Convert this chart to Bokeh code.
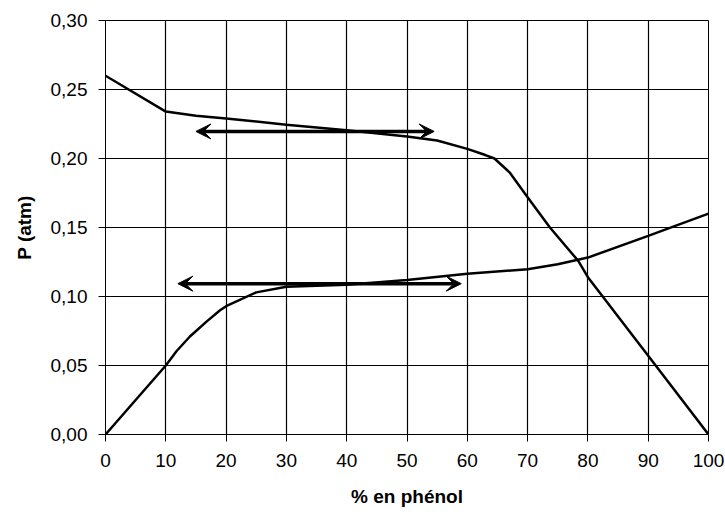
from bokeh.plotting import figure
from bokeh.models import FixedTicker, CustomJSTickFormatter, Arrow, VeeHead
from bokeh.embed import file_html
from bokeh.resources import INLINE

# Upper curve
upper_x = [0, 10, 15, 20, 30, 40, 50, 55, 60, 63, 64.5, 67, 70, 73.7, 78.4, 80, 90, 100]
upper_y = [0.260, 0.234, 0.231, 0.229, 0.2245, 0.2205, 0.216, 0.213, 0.207, 0.2025, 0.200,
           0.190, 0.172, 0.150, 0.1258, 0.114, 0.057, 0.0]

# Lower curve
lower_x = [0, 5, 10, 11.8, 14, 16.8, 19, 20, 25, 30, 40, 50, 60, 70, 75, 80, 90, 100]
lower_y = [0.0, 0.025, 0.050, 0.0605, 0.071, 0.082, 0.090, 0.093, 0.103, 0.107,
           0.1085, 0.112, 0.1165, 0.1197, 0.1234, 0.1282, 0.1439, 0.160]

# Double arrows (start x, end x, y)
arrow_x_start = [15, 12]
arrow_x_end = [54.5, 59]
arrow_y = [0.2196, 0.1093]

x_ticks = [0, 10, 20, 30, 40, 50, 60, 70, 80, 90, 100]
y_ticks = [0.0, 0.05, 0.10, 0.15, 0.20, 0.25, 0.30]

x_title = "% en phénol"
y_title = "P (atm)"

p = figure(width=725, height=520, x_range=(0, 100), y_range=(0, 0.30),
           output_backend="svg", toolbar_location=None,
           min_border_left=105, min_border_right=17, min_border_top=20, min_border_bottom=86)
p.outline_line_color = "black"
p.outline_line_width = 1
p.background_fill_color = "white"
p.border_fill_color = "white"

for ax in (p.xaxis[0], p.yaxis[0]):
    ax.axis_line_color = "black"
    ax.major_tick_line_color = "black"
    ax.minor_tick_line_color = None
    ax.major_tick_out = 7
    ax.major_tick_in = 0
    ax.major_label_text_font = "Liberation Sans"
    ax.major_label_text_font_size = "19px"
    ax.major_label_text_color = "black"
    ax.axis_label_text_font = "Liberation Sans"
    ax.axis_label_text_font_style = "bold"
    ax.axis_label_text_font_size = "19px"
    ax.axis_label_text_color = "black"

p.xaxis.ticker = FixedTicker(ticks=x_ticks)
p.yaxis.ticker = FixedTicker(ticks=y_ticks)
p.yaxis.formatter = CustomJSTickFormatter(code="return tick.toFixed(2).replace('.', ',');")
p.xaxis.major_label_standoff = 12
p.yaxis.major_label_standoff = 11
p.xaxis.axis_label = x_title
p.yaxis.axis_label = y_title
p.xaxis.axis_label_standoff = 16
p.yaxis.axis_label_standoff = 13

p.xgrid.ticker = FixedTicker(ticks=x_ticks)
p.ygrid.ticker = FixedTicker(ticks=y_ticks)
p.grid.grid_line_color = "black"
p.grid.grid_line_width = 1.2
p.grid.grid_line_alpha = 1.0

p.line(upper_x, upper_y, line_color="black", line_width=2.5)
p.line(lower_x, lower_y, line_color="black", line_width=2.5)

for xs, xe, yy in zip(arrow_x_start, arrow_x_end, arrow_y):
    p.add_layout(Arrow(
        start=VeeHead(size=15, fill_color="black", line_color="black", line_width=1),
        end=VeeHead(size=15, fill_color="black", line_color="black", line_width=1),
        x_start=xs, y_start=yy, x_end=xe, y_end=yy,
        line_color="black", line_width=3.5))

open("out.html", "w").write(file_html(p, INLINE))
